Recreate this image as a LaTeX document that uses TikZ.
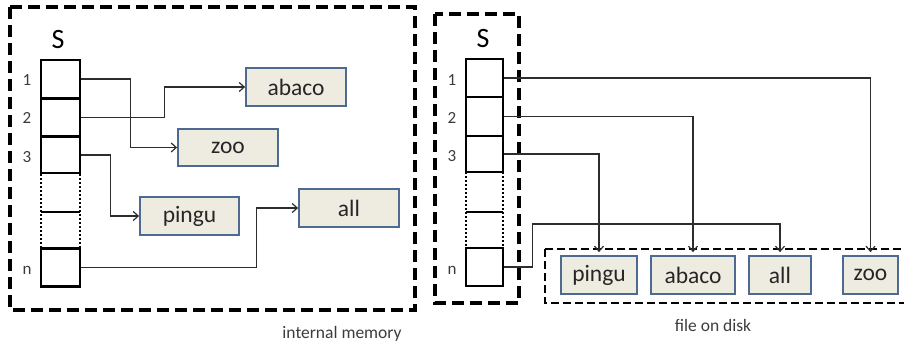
\documentclass[tikz,border=0pt]{standalone}
\usepackage{fontspec}
\setmainfont{Carlito}
\usetikzlibrary{arrows.meta}
\definecolor{boxfill}{RGB}{238,236,225}
\definecolor{boxline}{RGB}{79,106,145}
\definecolor{linkcol}{RGB}{45,45,45}
\definecolor{txtgray}{RGB}{60,60,60}
\tikzset{
  cell/.style={draw=black, line width=2.5pt, minimum width=39pt, minimum height=38pt, inner sep=0pt},
  item/.style={draw=boxline, fill=boxfill, line width=1.8pt, minimum height=38pt, inner sep=0pt, font=\fontsize{23.5}{26}\selectfont, text=black!85},
  idx/.style={font=\fontsize{17}{19}\selectfont, text=txtgray},
  slabel/.style={font=\fontsize{28}{30}\selectfont},
  caption/.style={font=\fontsize{17.5}{20}\selectfont, text=txtgray},
  bigdash/.style={draw=black, line width=4pt, dash pattern=on 12pt off 6pt},
  smalldash/.style={draw=black, line width=2.5pt, dash pattern=on 8pt off 4pt},
  dotside/.style={draw=black, line width=2.5pt, dash pattern=on 2pt off 2pt},
  link/.style={draw=linkcol, line width=1.2pt, -{Straight Barb[length=5pt,width=9pt,line width=1.2pt]}}
}
\begin{document}
\begin{tikzpicture}[x=1pt,y=-1pt]
\useasboundingbox (0,0) rectangle (904,346);
% ---------------- left panel: internal memory
\draw[bigdash] (10,7) rectangle (415,310);
\node[slabel] (SL) at (58,40) {S};
\node[cell] (cL1) at (60.5,79) {};
\node[cell] (cL2) at (60.5,117.5) {};
\node[cell, minimum height=36pt] (cL3) at (60.5,155) {};
\node[cell] (cLn) at (60.5,267.5) {};
\draw[dotside] (41,174) -- (41,248);
\draw[dotside] (80,174) -- (80,248);
\draw[black, line width=2.5pt] (41,212) -- (80,212);
\node[idx] (iL1) at (27,80) {1};
\node[idx] (iL2) at (27,118) {2};
\node[idx] (iL3) at (27,157) {3};
\node[idx] (iLn) at (27,270) {n};
\node[item, minimum width=100pt] (abacoL) at (296,87) {abaco};
\node[item, minimum width=100pt, minimum height=37pt] (zooL) at (228,147.5) {zoo};
\node[item, minimum width=99pt] (pinguL) at (189.5,216) {pingu};
\node[item, minimum width=100pt] (allL) at (349,208) {all};
\draw[link] (cL1.east) -- ++(49,0) |- (zooL.west);
\draw[link] (cL2.east) -- ++(83,0) |- (abacoL.west);
\draw[link] (cL3.east) -- ++(29,0) |- (pinguL.west);
\draw[link] (cLn.east) -- ++(175,0) |- (allL.west);
\node[caption] (capL) at (342,334) {internal memory};
% ---------------- right panel: file on disk
\draw[bigdash] (435,14) rectangle (519,303);
\draw[smalldash] (545,249) rectangle (915,303);
\node[slabel] (SR) at (483,39) {S};
\node[cell, minimum width=37pt] (cR1) at (484.5,78) {};
\node[cell, minimum width=37pt, minimum height=39pt] (cR2) at (484.5,116.5) {};
\node[cell, minimum width=37pt, minimum height=36pt] (cR3) at (484.5,154) {};
\node[cell, minimum width=37pt] (cRn) at (484.5,267) {};
\draw[dotside] (466,172) -- (466,248);
\draw[dotside] (503,172) -- (503,248);
\draw[black, line width=2.5pt] (466,212) -- (503,212);
\node[idx] (iR1) at (452,80) {1};
\node[idx] (iR2) at (452,118) {2};
\node[idx] (iR3) at (452,156) {3};
\node[idx] (iRn) at (452,270) {n};
\node[item, minimum width=76pt] (pinguR) at (599,275) {pingu};
\node[item, minimum width=84pt] (abacoR) at (693,275) {abaco};
\node[item, minimum width=62pt] (allR) at (780,275) {all};
\node[item, minimum width=55pt] (zooR) at (870.5,275) {zoo};
\draw[link, shorten >=3pt] (cR1.east) -| (zooR.north);
\draw[link, shorten >=3pt] (cR2.east) -| (abacoR.north);
\draw[link, shorten >=3pt] (cR3.east) -| (pinguR.north);
\draw[link, shorten >=3pt] (cRn.east) -- ++(28,0) -- ++(0,-43) -| (allR.north);
\node[caption] (capR) at (713,325) {file on disk};
\end{tikzpicture}
\end{document}
